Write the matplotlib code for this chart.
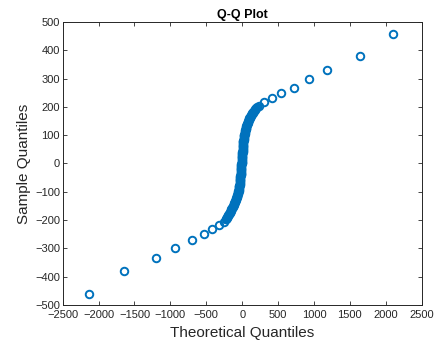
import matplotlib
matplotlib.use("Agg")
import matplotlib.pyplot as plt

# outer (sparse) points, lower tail then upper tail
tail_low_x = [-2130, -1650, -1205, -940, -695, -536, -418, -320, -255]
tail_low_y = [-460, -381, -334, -300, -272, -251, -233, -219, -207]
tail_high_x = [238, 308, 411, 540, 726, 930, 1185, 1641, 2104]
tail_high_y = [203, 216, 230, 248, 268, 297, 330, 380, 458]

# dense S-shaped middle part (circles overlap into a thick band)
mid_x = [-232, -225, -218, -211, -204, -197, -190, -183, -176, -169,
         -162, -155, -149, -143, -137, -131, -125, -119, -114, -109,
         -104, -99, -94, -90, -86, -82, -78, -74, -70, -66,
         -63, -60, -57, -54, -51, -48, -46, -44, -42, -40,
         -38, -36, -34, -32, -31, -30, -29, -28, -27, -26,
         -25, -24, -23, -22, -21, -20, -19, -18, -17, -16,
         -15, -14, -13, -12, -11, -10, -9, -8, -7, -6,
         -5, -4, -3, -2, -1, 0, 1, 2, 3, 4,
         5, 6, 7, 8, 9, 10, 11, 12, 13, 14,
         15, 16, 17, 18, 19, 21, 23, 25, 27, 29,
         31, 33, 35, 38, 41, 44, 47, 50, 53, 56,
         59, 62, 66, 70, 74, 78, 83, 88, 93, 98,
         104, 110, 116, 123, 130, 138, 146, 155, 164, 174,
         184, 195, 206]
mid_y = [-198, -195, -192, -189, -186, -183, -180, -177, -174, -171,
         -168, -165, -162, -159, -156, -153, -150, -147, -144, -141,
         -138, -135, -132, -129, -126, -123, -120, -117, -114, -111,
         -108, -105, -102, -99, -96, -93, -90, -87, -84, -81,
         -78, -75, -72, -69, -66, -63, -60, -57, -54, -51,
         -48, -45, -42, -39, -36, -33, -30, -27, -24, -21,
         -18, -15, -12, -9, -6, -3, 0, 3, 6, 9,
         12, 15, 18, 21, 24, 27, 30, 33, 36, 39,
         42, 45, 48, 51, 54, 57, 60, 63, 66, 69,
         72, 75, 78, 81, 84, 87, 90, 93, 96, 99,
         102, 105, 108, 111, 114, 117, 120, 123, 126, 129,
         132, 135, 138, 141, 144, 147, 150, 153, 156, 159,
         162, 165, 168, 171, 174, 177, 180, 183, 186, 189,
         192, 195, 198]

theoretical = tail_low_x + mid_x + tail_high_x
sample = tail_low_y + mid_y + tail_high_y

plt.rcParams['font.family'] = ['Liberation Sans', 'DejaVu Sans']
text_col = '#262626'

fig = plt.figure(figsize=(4.4, 3.43), dpi=100)
ax = fig.add_axes([0.1425, 0.111, 0.8159, 0.825])

ax.plot(theoretical, sample, linestyle='none', marker='o', markersize=5.4,
        markerfacecolor='none', markeredgecolor='#0072BD', markeredgewidth=1.4)

ax.set_xlim(-2500, 2500)
ax.set_ylim(-500, 500)
ax.set_xticks(range(-2500, 2501, 500))
ax.set_yticks(range(-500, 501, 100))
ax.tick_params(direction='in', top=True, right=True, length=3, width=0.6,
               labelsize=8, colors=text_col)
ax.tick_params(axis='x', pad=4)
ax.tick_params(axis='y', pad=2)
for s in ax.spines.values():
    s.set_color(text_col)
    s.set_linewidth(0.7)

ax.set_xlabel('Theoretical Quantiles', fontsize=11, color=text_col, labelpad=4)
ax.set_ylabel('Sample Quantiles', fontsize=11, color=text_col, labelpad=3)
ax.set_title('Q-Q Plot', fontsize=9, fontweight='bold', color='black', pad=3)

fig.savefig('out.png', dpi=100)
